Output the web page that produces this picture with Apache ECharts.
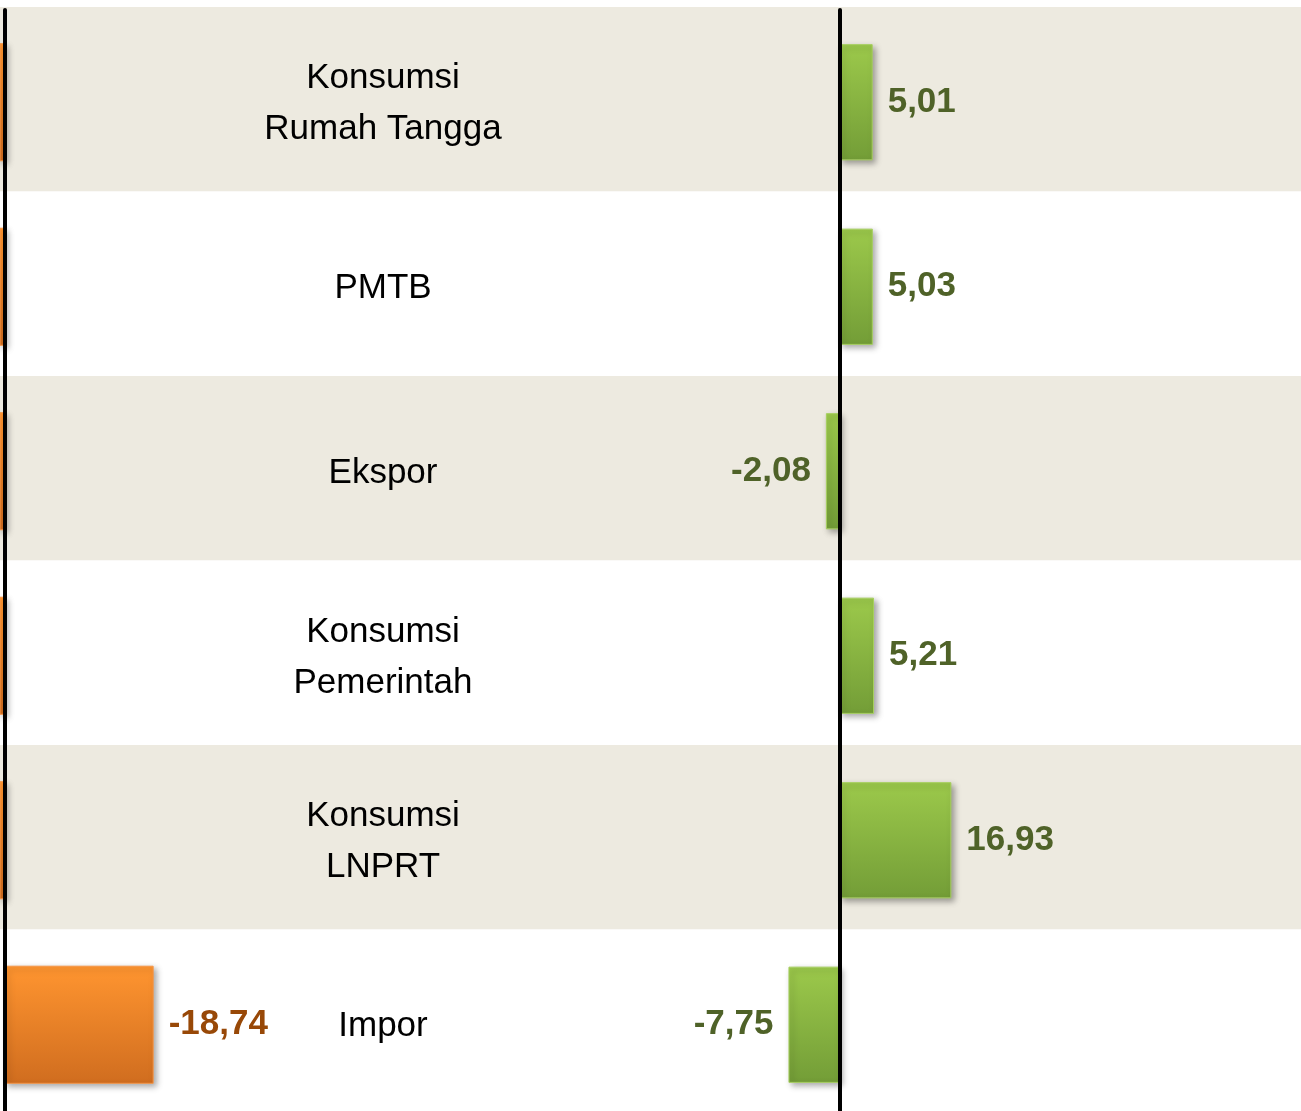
<!DOCTYPE html>
<html>
<head>
<meta charset="utf-8">
<script src="https://cdn.jsdelivr.net/npm/echarts@6/dist/echarts.min.js"></script>
<style>
  html, body { margin: 0; padding: 0; background: #fff; }
  #chart { width: 1301px; height: 1111px; }
</style>
</head>
<body>
<div id="chart"></div>
<script>
// komponen PDB (pengeluaran)
var categories = ['Konsumsi\nRumah Tangga', 'PMTB', 'Ekspor', 'Konsumsi\nPemerintah', 'Konsumsi\nLNPRT', 'Impor'];
// pertumbuhan periode kanan (hijau)
var growthGreen = [5.01, 5.03, -2.08, 5.21, 16.93, -7.75];
// pertumbuhan periode kiri (oranye) - sebagian terpotong di tepi kiri
var growthOrange = [4.2, 4.5, 6.0, 2.5, 3.0, -18.74];

var FONT = "'Liberation Sans', Arial, sans-serif";

function fmt(v) {
	return v.toFixed(2).replace('.', ',');
}

var greenFill = new echarts.graphic.LinearGradient(0, 0, 0, 1, [
	{offset: 0, color: '#9CC94B'},
	{offset: 1, color: '#739D37'}
]);
var orangeFill = new echarts.graphic.LinearGradient(0, 0, 0, 1, [
	{offset: 0, color: '#FF9530'},
	{offset: 1, color: '#D06D1F'}
]);
var shadow = {
	shadowColor: 'rgba(0,0,0,0.35)',
	shadowBlur: 6,
	shadowOffsetX: 3,
	shadowOffsetY: 3
};

var greenData = growthGreen.map(function (v) {
	return {
		value: v,
		label: {position: v >= 0 ? 'right' : 'left'}
	};
});
var orangeData = growthOrange.map(function (v) {
	return {
		value: v,
		label: {position: v >= 0 ? 'left' : 'right'}
	};
});

var myChart = echarts.init(document.getElementById('chart'));
var option = {
	animation: false,
	grid: [
		{left: 0, width: 1301, top: 7, height: 1107, outerBoundsMode: 'none'},   // latar belakang
		{left: 0, width: 1301, top: 10, height: 1107, outerBoundsMode: 'none'},  // hijau
		{left: 0, width: 839, top: 10, height: 1107, outerBoundsMode: 'none'},   // oranye
		{left: 383, width: 1, top: 12, height: 1107, outerBoundsMode: 'none'}    // nama komponen
	],
	xAxis: [
		{gridIndex: 0, type: 'value', min: 0, max: 1, show: false},
		{gridIndex: 1, type: 'value', min: -127.2, max: 69.9, show: false},
		{gridIndex: 2, type: 'value', min: -105, max: 0.6, inverse: true, show: false},
		{gridIndex: 3, type: 'value', min: 0, max: 1, show: false}
	],
	yAxis: [
		{
			gridIndex: 0, type: 'category', data: categories, inverse: true,
			axisLine: {show: false}, axisTick: {show: false}, axisLabel: {show: false},
			splitArea: {show: true, areaStyle: {color: ['#EDEAE0', '#FFFFFF']}}
		},
		{
			gridIndex: 1, type: 'category', data: categories, inverse: true, z: 5,
			axisLine: {show: true, onZero: true, lineStyle: {color: '#000', width: 4}},
			axisTick: {show: false},
			axisLabel: {show: false}
		},
		{
			gridIndex: 2, type: 'category', data: categories, inverse: true, z: 5,
			axisLine: {show: true, onZero: true, lineStyle: {color: '#000', width: 4}},
			axisTick: {show: false},
			axisLabel: {show: false}
		},
		{
			gridIndex: 3, type: 'category', data: categories, inverse: true,
			axisLine: {show: false},
			axisTick: {show: false},
			axisLabel: {
				show: true, align: 'center', margin: 0, interval: 0,
				fontFamily: FONT, fontSize: 35, lineHeight: 51, color: '#000'
			}
		}
	],
	series: [
		{
			name: 'Hijau',
			type: 'bar',
			xAxisIndex: 1,
			yAxisIndex: 1,
			barCategoryGap: '37%',
			data: greenData,
			itemStyle: Object.assign({color: greenFill, borderColor: '#A6CF5E', borderWidth: 1}, shadow),
			label: {
				show: true, distance: 15,
				formatter: function (p) { return fmt(p.value); },
				fontFamily: FONT, fontSize: 35, fontWeight: 'bold', color: '#4F6228'
			}
		},
		{
			name: 'Oranye',
			type: 'bar',
			xAxisIndex: 2,
			yAxisIndex: 2,
			barCategoryGap: '36%',
			data: orangeData,
			itemStyle: Object.assign({color: orangeFill, borderColor: '#F79646', borderWidth: 1}, shadow),
			label: {
				show: true, distance: 15,
				formatter: function (p) { return fmt(p.value); },
				fontFamily: FONT, fontSize: 35, fontWeight: 'bold', color: '#984807'
			}
		}
	]
};
myChart.setOption(option);
window.addEventListener('resize', function () {
	myChart.resize();
});
</script>
</body>
</html>
